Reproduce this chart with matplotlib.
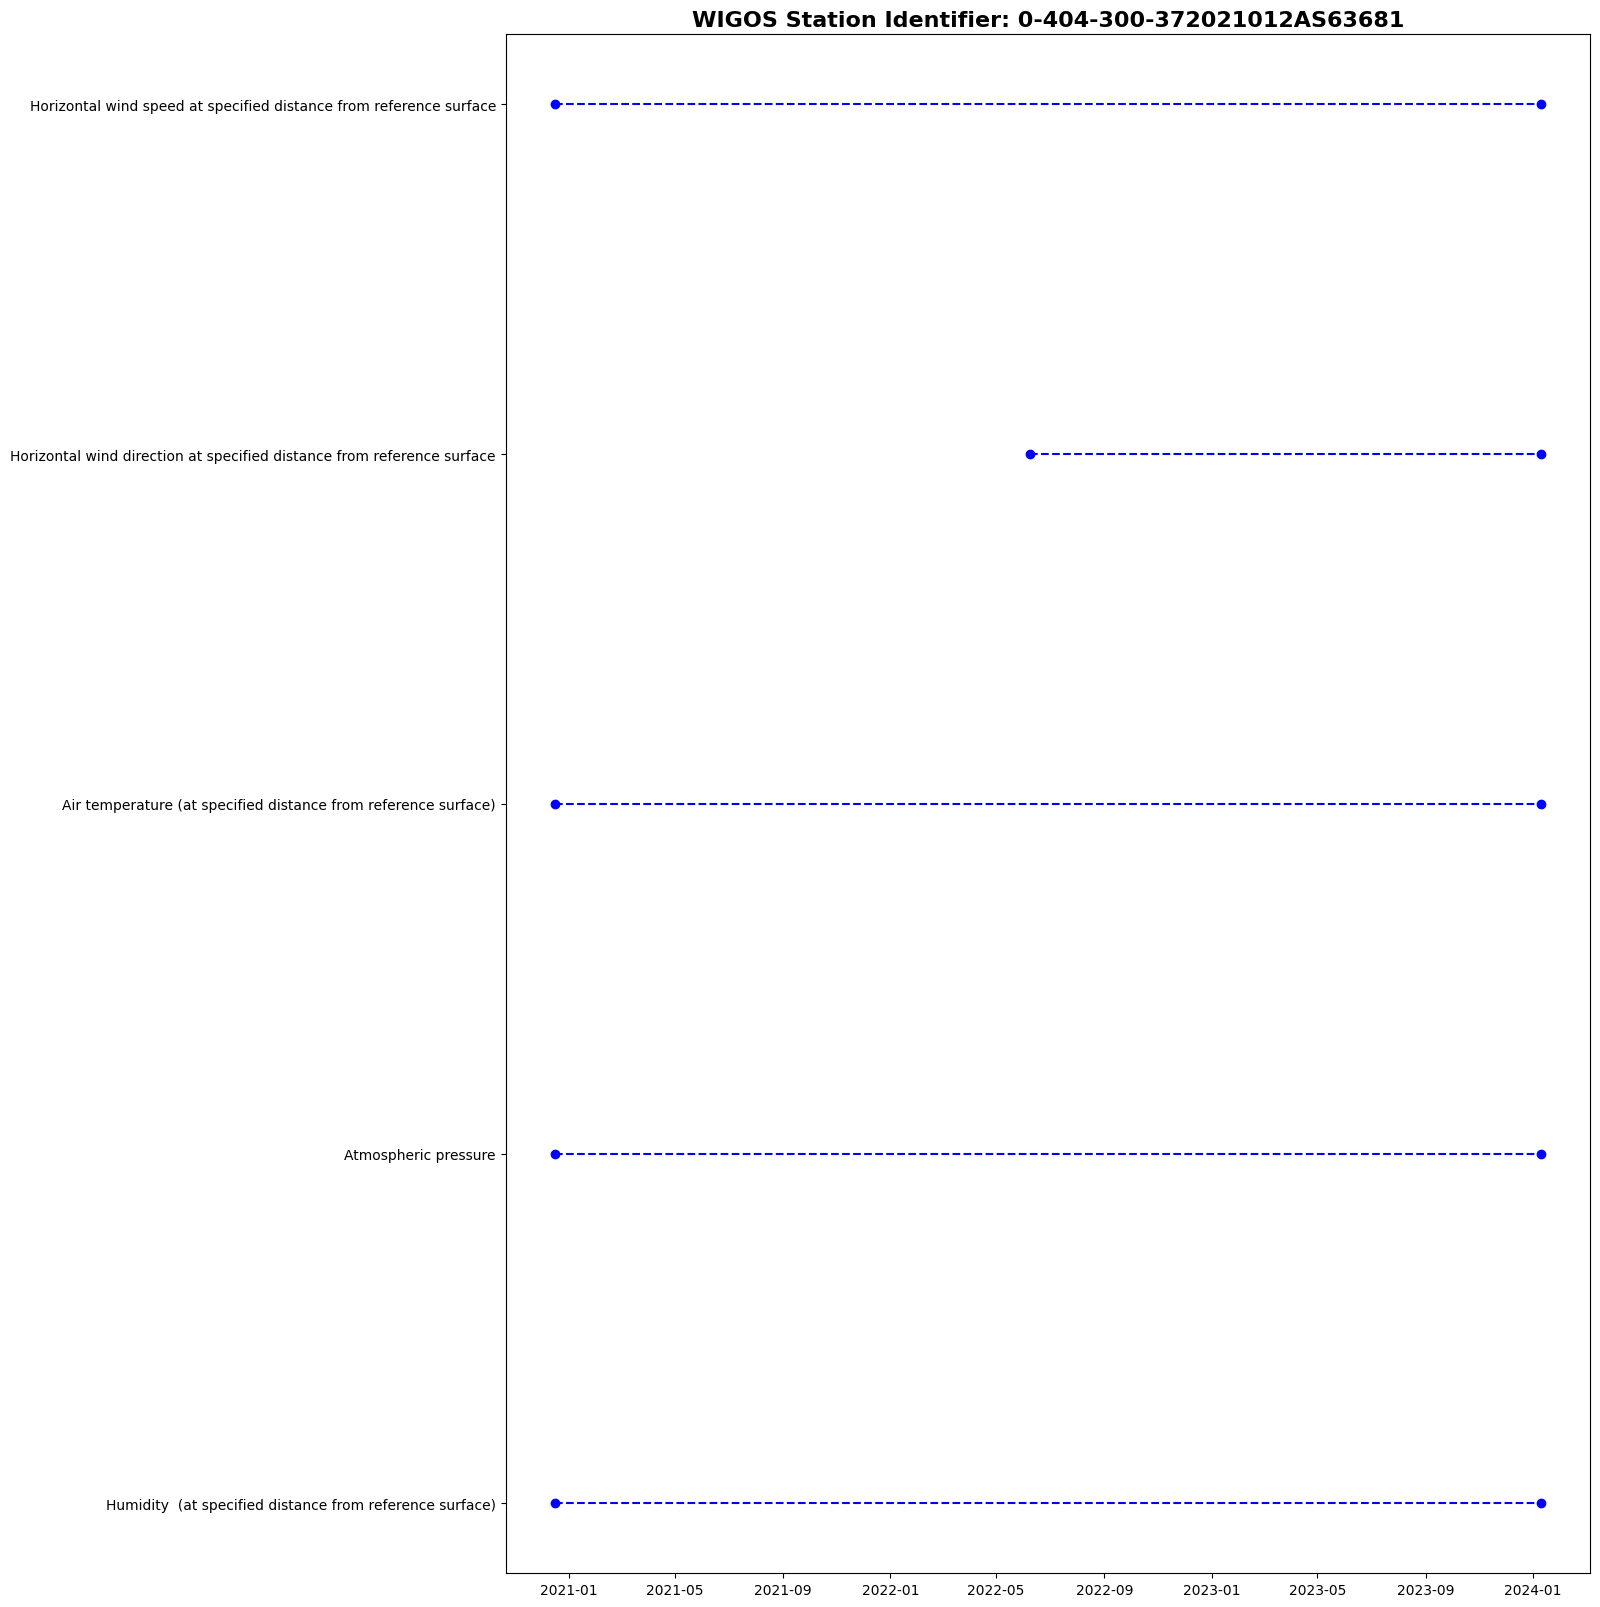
import matplotlib
matplotlib.use("Agg")
import matplotlib.pyplot as plt
import matplotlib.dates as mdates
import pandas as pd

title = "WIGOS Station Identifier: 0-404-300-372021012AS63681"
variables = [
    "Humidity  (at specified distance from reference surface)",
    "Atmospheric pressure",
    "Air temperature (at specified distance from reference surface)",
    "Horizontal wind direction at specified distance from reference surface",
    "Horizontal wind speed at specified distance from reference surface",
]
start_dates = ["2020-12-16", "2020-12-16", "2020-12-16", "2022-06-08", "2020-12-16"]
end_dates = ["2024-01-10", "2024-01-10", "2024-01-10", "2024-01-10", "2024-01-10"]

fig = plt.figure(figsize=(16, 16.08), dpi=100)
ax = fig.add_axes([0.316, 0.021, 0.678, 0.957])

for var, s, e in zip(variables, start_dates, end_dates):
    ax.plot([pd.Timestamp(s), pd.Timestamp(e)], [var, var], "o--", color="blue")

ax.xaxis.set_major_locator(mdates.MonthLocator(bymonth=[1, 5, 9]))
ax.xaxis.set_major_formatter(mdates.DateFormatter("%Y-%m"))
ax.set_title(title, fontsize=16, fontweight="bold")

fig.savefig("out.png", dpi=100)
